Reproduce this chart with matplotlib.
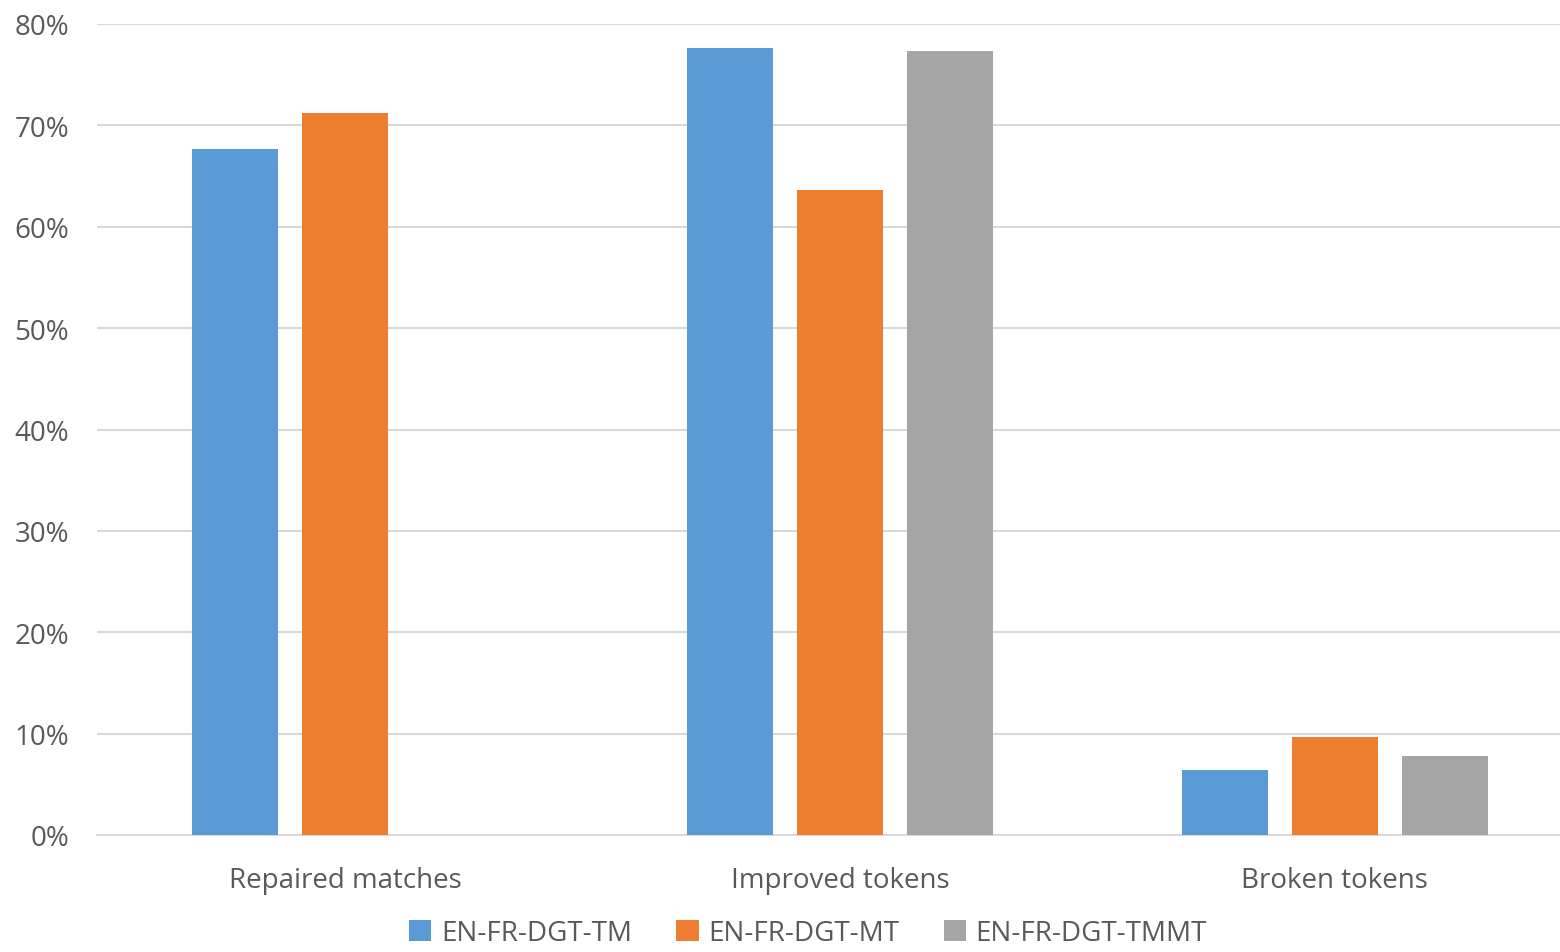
import matplotlib
matplotlib.use("Agg")
import matplotlib.pyplot as plt
import numpy as np
from matplotlib.ticker import FuncFormatter

categories = ["Repaired matches", "Improved tokens", "Broken tokens"]
series_names = ["EN-FR-DGT-TM", "EN-FR-DGT-MT", "EN-FR-DGT-TMMT"]
tm_values = [67.7, 77.6, 6.4]
mt_values = [71.2, 63.6, 9.7]
tmmt_values = [np.nan, 77.3, 7.8]
colors = ["#5B9BD5", "#ED7D31", "#A5A5A5"]
yticks = [0, 10, 20, 30, 40, 50, 60, 70, 80]

plt.rcParams['font.family'] = ['Open Sans', 'DejaVu Sans']
fig = plt.figure(figsize=(15.6, 9.53), dpi=100)
ax = fig.add_axes([97/1560, 1 - 836/953, 1 - 97/1560, (836 - 25)/953])

x = np.arange(len(categories))
width = 0.174
step = 0.222
offsets = [-step, 0, step]
for vals, off, col, name in zip([tm_values, mt_values, tmmt_values], offsets, colors, series_names):
    ax.bar(x + off, vals, width, color=col, label=name, zorder=3)

ax.set_xlim(-0.501, 2.455)
ax.set_ylim(0, 80)
ax.set_yticks(yticks)
ax.yaxis.set_major_formatter(FuncFormatter(lambda v, p: f"{int(v)}%"))
ax.set_xticks(x)
ax.set_xticklabels(categories)
ax.grid(axis='y', color='#D9D9D9', linewidth=1.5, zorder=0)
for s in ['top', 'right', 'left']:
    ax.spines[s].set_visible(False)
ax.spines['bottom'].set_color('#D9D9D9')
ax.spines['bottom'].set_linewidth(1.5)
ax.tick_params(axis='both', length=0, labelsize=20, colors='#595959')
ax.tick_params(axis='x', pad=22)
ax.tick_params(axis='y', pad=20)
for lab in ax.get_yticklabels():
    lab.set_horizontalalignment('right')

leg = fig.legend(loc='center', bbox_to_anchor=(808/1560, 1 - 934/953), ncol=3, frameon=False,
                 fontsize=20, handlelength=0.8, handleheight=0.8, handletextpad=0.35,
                 columnspacing=1.6, labelcolor='#595959', borderpad=0.2)
fig.savefig("out.png", dpi=100)
